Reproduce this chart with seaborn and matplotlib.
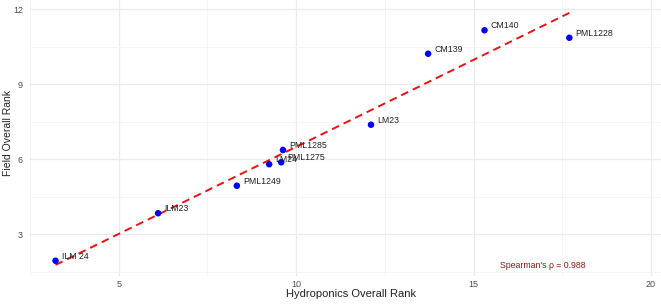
import matplotlib
matplotlib.use('Agg')
import matplotlib.pyplot as plt
import pandas as pd
import seaborn as sns

# 품종별 순위 (값은 그림에서 읽음)
genotypes = ['ILM 24', 'ILM23', 'PML1249', 'LM24', 'PML1275',
             'PML1285', 'LM23', 'CM139', 'CM140', 'PML1228']
hydro_rank = [3.22, 6.11, 8.33, 9.24, 9.58, 9.63, 12.11, 13.72, 15.31, 17.70]
field_rank = [1.94, 3.84, 4.94, 5.80, 5.88, 6.37, 7.38, 10.22, 11.16, 10.86]
x_ticks = [5, 10, 15, 20]
y_ticks = [3, 6, 9, 12]
rho_text = "Spearman's \u03c1 = 0.988"

df = pd.DataFrame({'genotype': genotypes, 'hydro': hydro_rank, 'field': field_rank})

sns.set_theme(style='white')
plt.rcParams['font.family'] = ['Liberation Sans', 'DejaVu Sans']

fig = plt.figure(figsize=(6.61, 3.06), dpi=100)
ax = fig.add_axes([30 / 661, 30 / 306, 644 / 661, 276 / 306])

# 회귀선 (점선)
sns.regplot(data=df, x='hydro', y='field', scatter=False, ci=None, ax=ax,
            line_kws=dict(color='#ee1111', lw=1.4, dashes=(4, 2.6)))
sns.scatterplot(data=df, x='hydro', y='field', color='#0000ff', s=22,
                edgecolor='none', ax=ax, zorder=3)

for g, xv, yv in zip(df['genotype'], df['hydro'], df['field']):
    ax.annotate(g, (xv, yv), xytext=(4.6, 3.4), textcoords='offset points',
                ha='left', va='center', fontsize=6.3, color='#222222', zorder=4)

ax.text(16.96, 1.73, rho_text, color='#8b1a1a', fontsize=6.3,
        ha='center', va='center')

ax.set_xlim(2.51, 20.65)
ax.set_ylim(1.33, 12.37)
ax.set_xticks(x_ticks)
ax.set_yticks(y_ticks)
ax.set_xticks([2.5, 7.5, 12.5, 17.5], minor=True)
ax.set_yticks([1.5, 4.5, 7.5, 10.5], minor=True)
ax.grid(which='major', color='#ebebeb', lw=0.9)
ax.grid(which='minor', color='#f4f4f4', lw=0.6)
ax.set_axisbelow(True)
for s in ax.spines.values():
    s.set_visible(False)
ax.tick_params(which='both', length=0, labelsize=6.5, labelcolor='#4d4d4d')
ax.tick_params(axis='y', pad=5)
ax.tick_params(axis='x', pad=3)

ax.set_xlabel('Hydroponics Overall Rank', fontsize=8, color='#222222', va='center')
ax.set_ylabel('Field Overall Rank', fontsize=7.5, color='#222222', va='center')
ax.xaxis.set_label_coords(0.498, -0.065)
ax.yaxis.set_label_coords(-0.034, 0.518)

fig.savefig('out.png', dpi=100)
